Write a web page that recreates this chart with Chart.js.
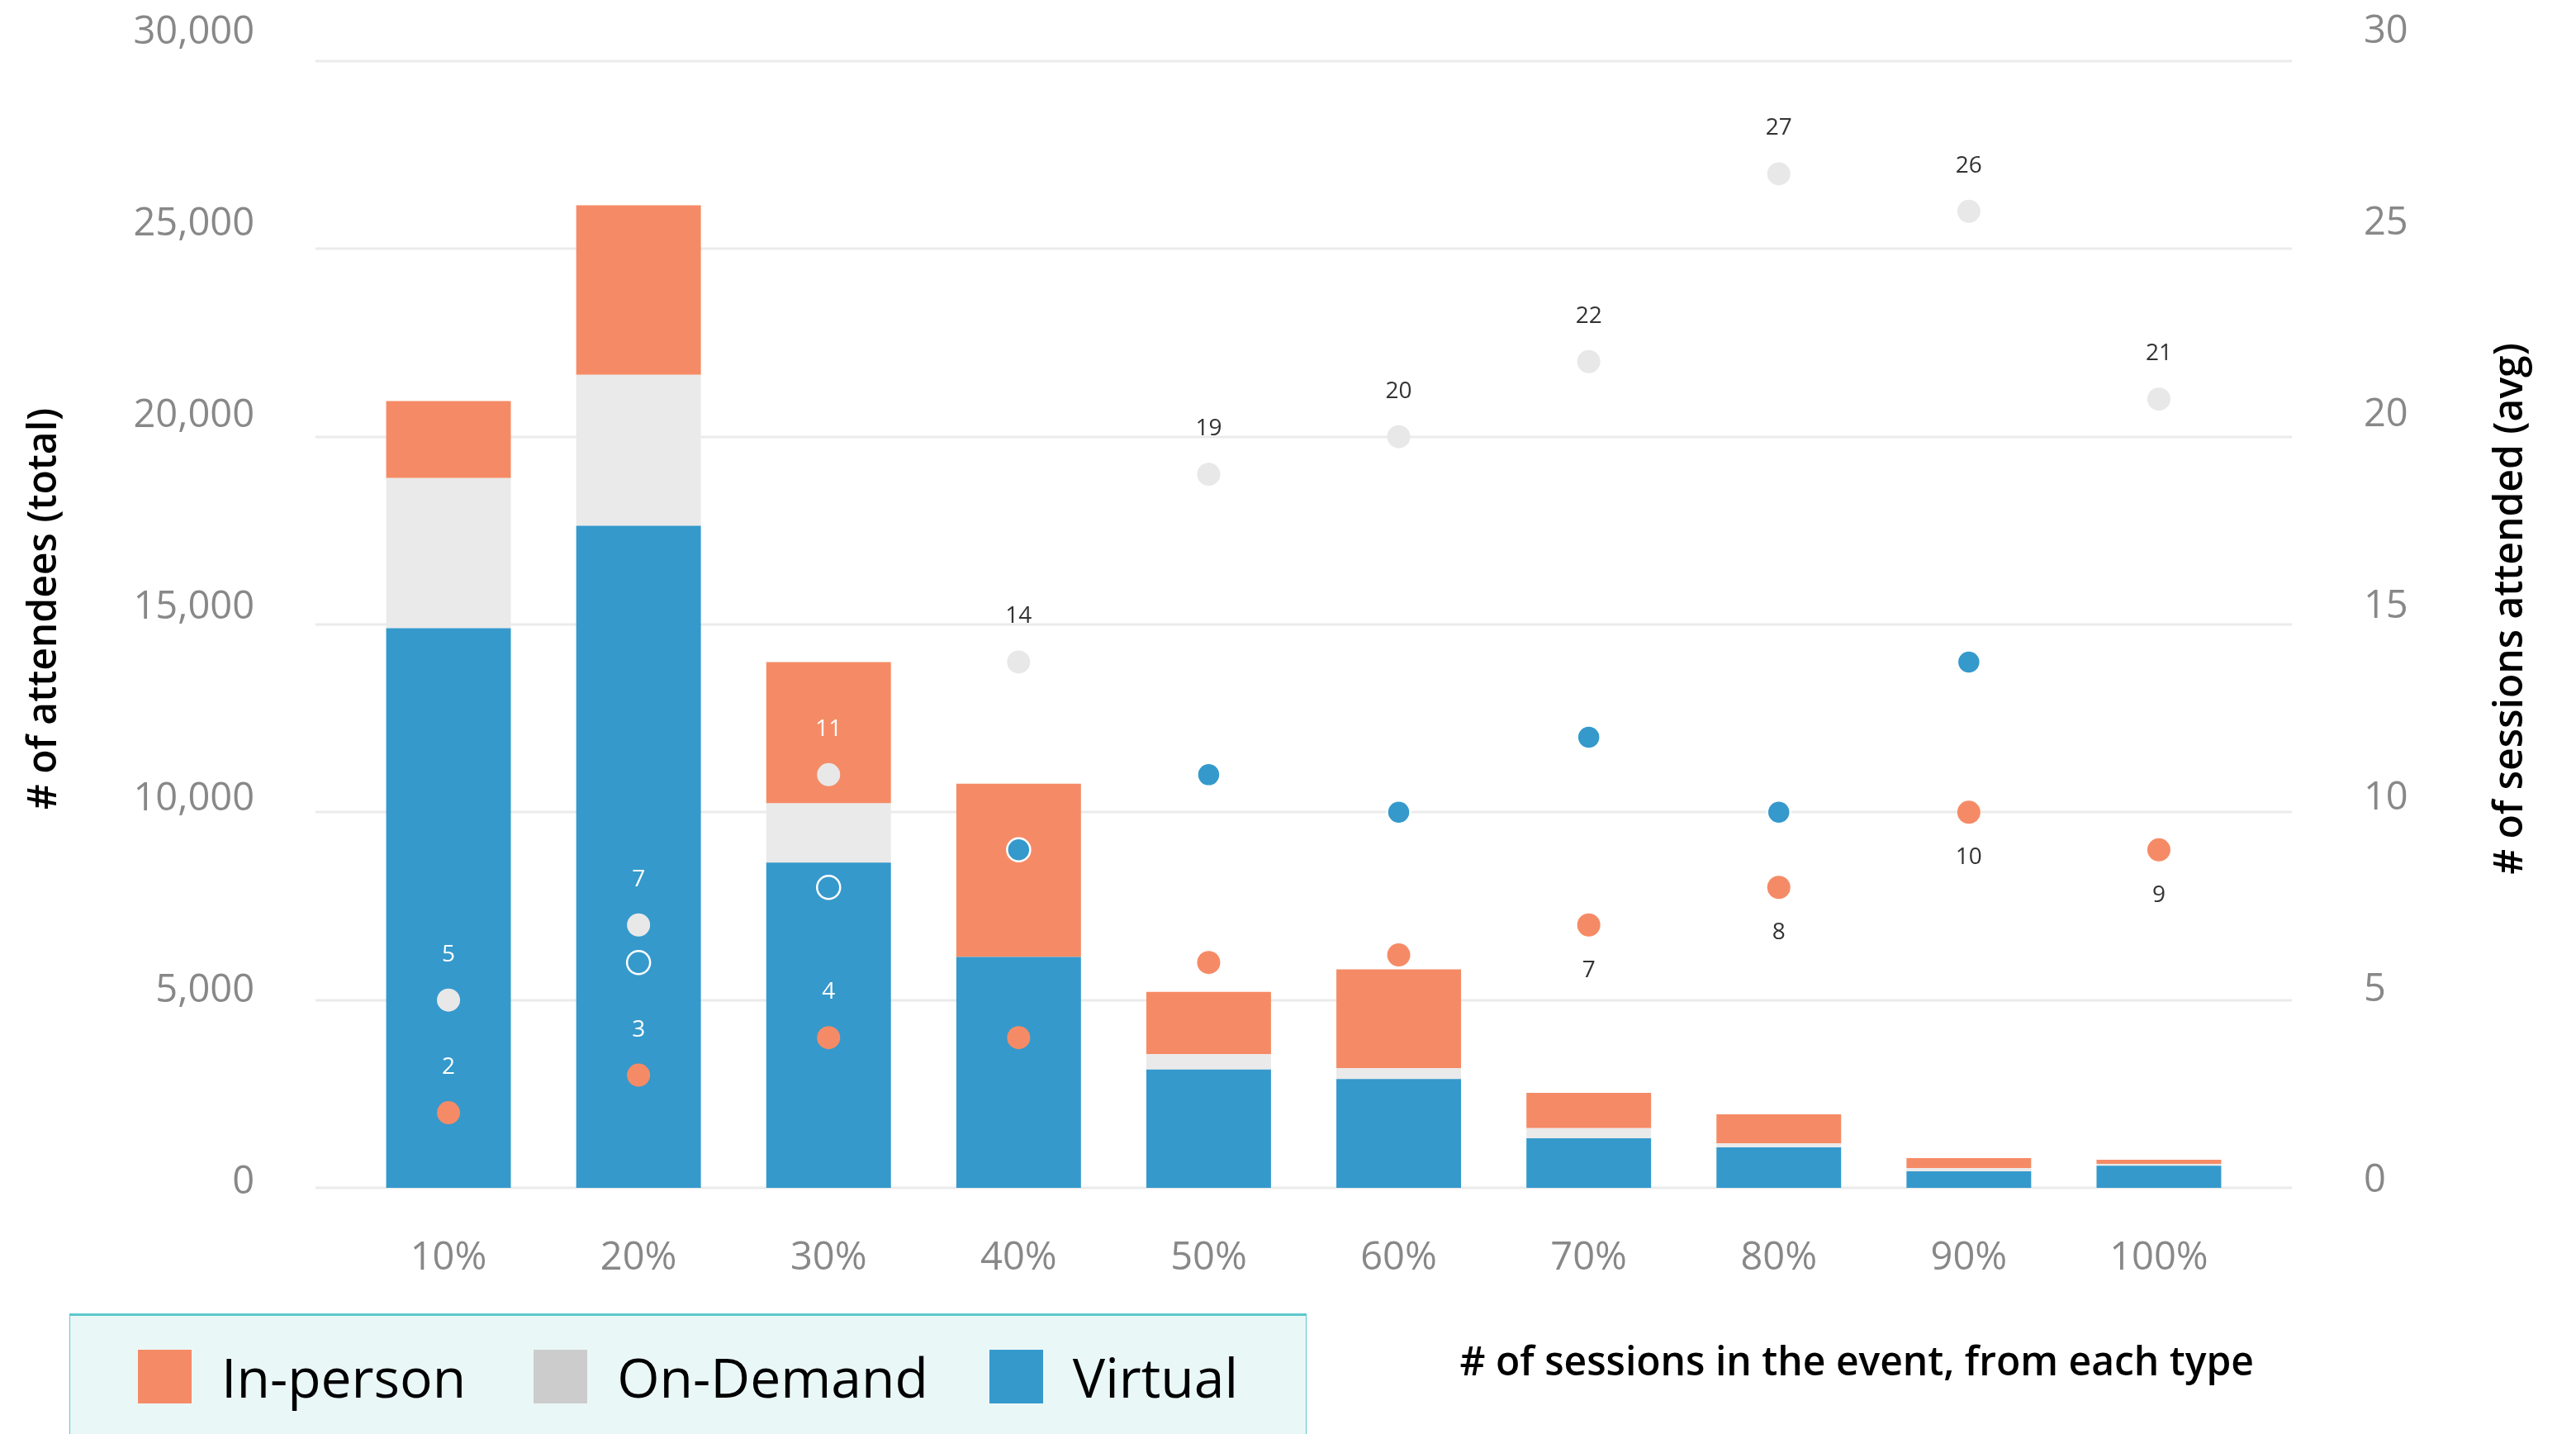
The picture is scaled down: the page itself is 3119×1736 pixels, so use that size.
<!DOCTYPE html>
<html>
<head>
<meta charset="utf-8">
<script src="https://cdn.jsdelivr.net/npm/chart.js@4/dist/chart.umd.min.js"></script>
<style>
  html, body { margin: 0; padding: 0; background: #fff; }
  #wrap { position: relative; width: 3119px; height: 1736px; overflow: hidden; font-family: 'Open Sans', sans-serif; }
  #legend {
    position: absolute; left: 84px; top: 1590px; width: 1498px; height: 200px;
    box-sizing: border-box; background: #eaf7f7;
    border: 1px solid #5cc8cc; border-top: 3px solid #5cc8cc;
    display: flex; align-items: flex-start; padding: 41px 0 0 82px;
  }
  .item { display: flex; align-items: center; margin-right: 82px; }
  .item:nth-child(2) { margin-right: 74px; }
  .sw { width: 65px; height: 65px; margin-right: 36px; flex: none; }
  .lbl { font-size: 66px; line-height: 65px; color: #000; white-space: nowrap; }
</style>
</head>
<body>
<div id="wrap">
  <canvas id="c" width="3119" height="1736"></canvas>
  <div id="legend"></div>
</div>
<script>
// Share of sessions of each type in the event
const categories = ['10%', '20%', '30%', '40%', '50%', '60%', '70%', '80%', '90%', '100%'];

// Total attendees per attendance type (stacked bars, left axis)
const virtualAttendees  = [14900, 17630, 8660, 6150, 3150, 2900, 1320, 1080, 440, 590];
const onDemandAttendees = [4000, 4020, 1580, 0, 410, 290, 270, 110, 90, 50];
const inPersonAttendees = [2050, 4510, 3760, 4610, 1660, 2630, 940, 770, 260, 110];

// Average number of sessions attended (dots, right axis)
const inPersonSessions = [2, 3, 4, 4, 6, 6.2, 7, 8, 10, 9];
const onDemandSessions = [5, 7, 11, 14, 19, 20, 22, 27, 26, 21];
const virtualSessions  = [null, 6, 8, 9, 11, 10, 12, 10, 14, null];

// Axis ticks
const attendeeTicks = [0, 5000, 10000, 15000, 20000, 25000, 30000];
const sessionTicks  = [0, 5, 10, 15, 20, 25, 30];

const FONT = "'Open Sans', 'Noto Sans', sans-serif";
const ORANGE = '#f58b66', GREY = '#eaeaea', BLUE = '#3599cc';

// Light horizontal grid, a little wider than the bar area
const gridPlugin = {
  id: 'wideGrid',
  beforeDatasetsDraw(chart) {
    const { ctx, chartArea, scales } = chart;
    ctx.save();
    ctx.strokeStyle = '#ebebeb';
    ctx.lineWidth = 3;
    attendeeTicks.forEach(v => {
      const y = Math.round(scales.y.getPixelForValue(v));
      ctx.beginPath();
      ctx.moveTo(chartArea.left - 46, y);
      ctx.lineTo(chartArea.right + 46, y);
      ctx.stroke();
    });
    ctx.restore();
  }
};

// Value labels above / below the session dots
const pointLabelPlugin = {
  id: 'pointLabels',
  afterDatasetsDraw(chart) {
    const { ctx } = chart;
    const bars = [];
    chart.data.datasets.forEach((ds, di) => {
      if (ds.type === 'bar') chart.getDatasetMeta(di).data.forEach(b => bars.push(b));
    });
    const insideBar = (x, y) => bars.some(b =>
      Math.abs(x - b.x) < b.width / 2 && y >= Math.min(b.y, b.base) && y <= Math.max(b.y, b.base));
    ctx.save();
    ctx.font = `28px ${FONT}`;
    ctx.textAlign = 'center';
    ctx.textBaseline = 'middle';
    chart.data.datasets.forEach((ds, di) => {
      if (!ds.pointLabels) return;
      const meta = chart.getDatasetMeta(di);
      meta.data.forEach((pt, i) => {
        const v = ds.data[i];
        const place = ds.pointLabels(i);
        if (v == null || !place) return;
        const y = pt.y + (place === 'below' ? 55 : -55);
        ctx.fillStyle = insideBar(pt.x, y) ? '#ffffff' : '#333333';
        ctx.fillText(String(Math.round(v)), pt.x, y);
      });
    });
    ctx.restore();
  }
};

// Rotated titles of the two value axes
const sideTitlesPlugin = {
  id: 'sideTitles',
  afterDraw(chart) {
    const { ctx } = chart;
    const draw = (text, x, y) => {
      ctx.save();
      ctx.translate(x, y);
      ctx.rotate(-Math.PI / 2);
      ctx.font = `600 48px ${FONT}`;
      ctx.fillStyle = '#000';
      ctx.textAlign = 'center';
      ctx.textBaseline = 'middle';
      ctx.fillText(text, 0, 0);
      ctx.restore();
    };
    draw('# of attendees (total)', 54, 737);
    draw('# of sessions attended (avg)', 3040, 737);
  }
};

const dotDataset = (label, data, color, extra) => Object.assign({
  type: 'line', label, data, yAxisID: 'y1', order: 1,
  showLine: false, pointRadius: 14, pointHoverRadius: 14,
  pointBackgroundColor: color, pointBorderColor: color, pointBorderWidth: 0,
  backgroundColor: color, borderColor: color, clip: false
}, extra || {});

const tickFont = { family: FONT, size: 47 };

// Fixed axis boxes so the plot area lands where it should
const fixBox = (w, h) => s => {
  if (w != null) s.width = w;
  if (h != null) s.height = h;
  s.paddingTop = 0; s.paddingBottom = 0; s.paddingLeft = 0; s.paddingRight = 0;
};

const chart = new Chart(document.getElementById('c'), {
  data: {
    labels: categories,
    datasets: [
      { type: 'bar', label: 'Virtual', data: virtualAttendees, backgroundColor: BLUE, swatch: BLUE, yAxisID: 'y', order: 10 },
      { type: 'bar', label: 'On-Demand', data: onDemandAttendees, backgroundColor: GREY, swatch: '#cccccc', yAxisID: 'y', order: 10 },
      { type: 'bar', label: 'In-person', data: inPersonAttendees, backgroundColor: ORANGE, swatch: ORANGE, yAxisID: 'y', order: 10 },
      dotDataset('Virtual sessions', virtualSessions, BLUE, { pointBorderColor: '#ffffff', pointBorderWidth: 2.5, pointRadius: 14, order: 3 }),
      dotDataset('In-person sessions', inPersonSessions, ORANGE, {
        order: 2,
        pointLabels: i => (i < 3 ? 'above' : i < 6 ? null : 'below')
      }),
      dotDataset('On-Demand sessions', onDemandSessions, '#e8e8e8', {
        order: 1,
        pointLabels: () => 'above'
      })
    ]
  },
  options: {
    responsive: false,
    devicePixelRatio: 1,
    animation: false,
    events: [],
    layout: { padding: { top: 74, left: 0, right: 0, bottom: 0 } },
    datasets: { bar: { barPercentage: 0.656, categoryPercentage: 1 } },
    plugins: { legend: { display: false }, tooltip: { enabled: false } },
    scales: {
      x: {
        type: 'category', stacked: true, offset: true,
        grid: { display: false, drawTicks: false }, border: { display: false },
        ticks: { font: tickFont, color: '#888888', padding: 57 },
        title: {
          display: true, align: 'end', text: '# of sessions in the event, from each type',
          font: { family: FONT, size: 48, weight: '600' }, color: '#000',
          padding: { top: 0, bottom: 56 }
        },
        afterFit: fixBox(null, 298)
      },
      y: { type: 'linear', display: false, stacked: true, min: 0, max: 30000 },
      y1: { type: 'linear', display: false, position: 'right', min: 0, max: 30 },
      yl: {
        type: 'linear', position: 'left', min: -129.5, max: 29267,
        grid: { display: false, drawTicks: false }, border: { display: false },
        ticks: { font: tickFont, color: '#888888', padding: 120, autoSkip: false,
                 callback: v => v.toLocaleString('en-US') },
        afterBuildTicks: s => { s.ticks = attendeeTicks.map(v => ({ value: v })); },
        afterFit: fixBox(428, null)
      },
      yr: {
        type: 'linear', position: 'right', min: -0.173, max: 29.245,
        grid: { display: false, drawTicks: false }, border: { display: false },
        ticks: { font: tickFont, color: '#888888', padding: 133, autoSkip: false,
                 callback: v => String(v) },
        afterBuildTicks: s => { s.ticks = sessionTicks.map(v => ({ value: v })); },
        afterFit: fixBox(390, null)
      }
    }
  },
  plugins: [gridPlugin, pointLabelPlugin, sideTitlesPlugin]
});

// Legend: stacked series from top to bottom
const legend = document.getElementById('legend');
chart.data.datasets.filter(d => d.type === 'bar').slice().reverse().forEach(ds => {
  const item = document.createElement('div');
  item.className = 'item';
  const sw = document.createElement('div');
  sw.className = 'sw';
  sw.style.background = ds.swatch;
  const lbl = document.createElement('div');
  lbl.className = 'lbl';
  lbl.textContent = ds.label;
  item.appendChild(sw);
  item.appendChild(lbl);
  legend.appendChild(item);
});
</script>
</body>
</html>
